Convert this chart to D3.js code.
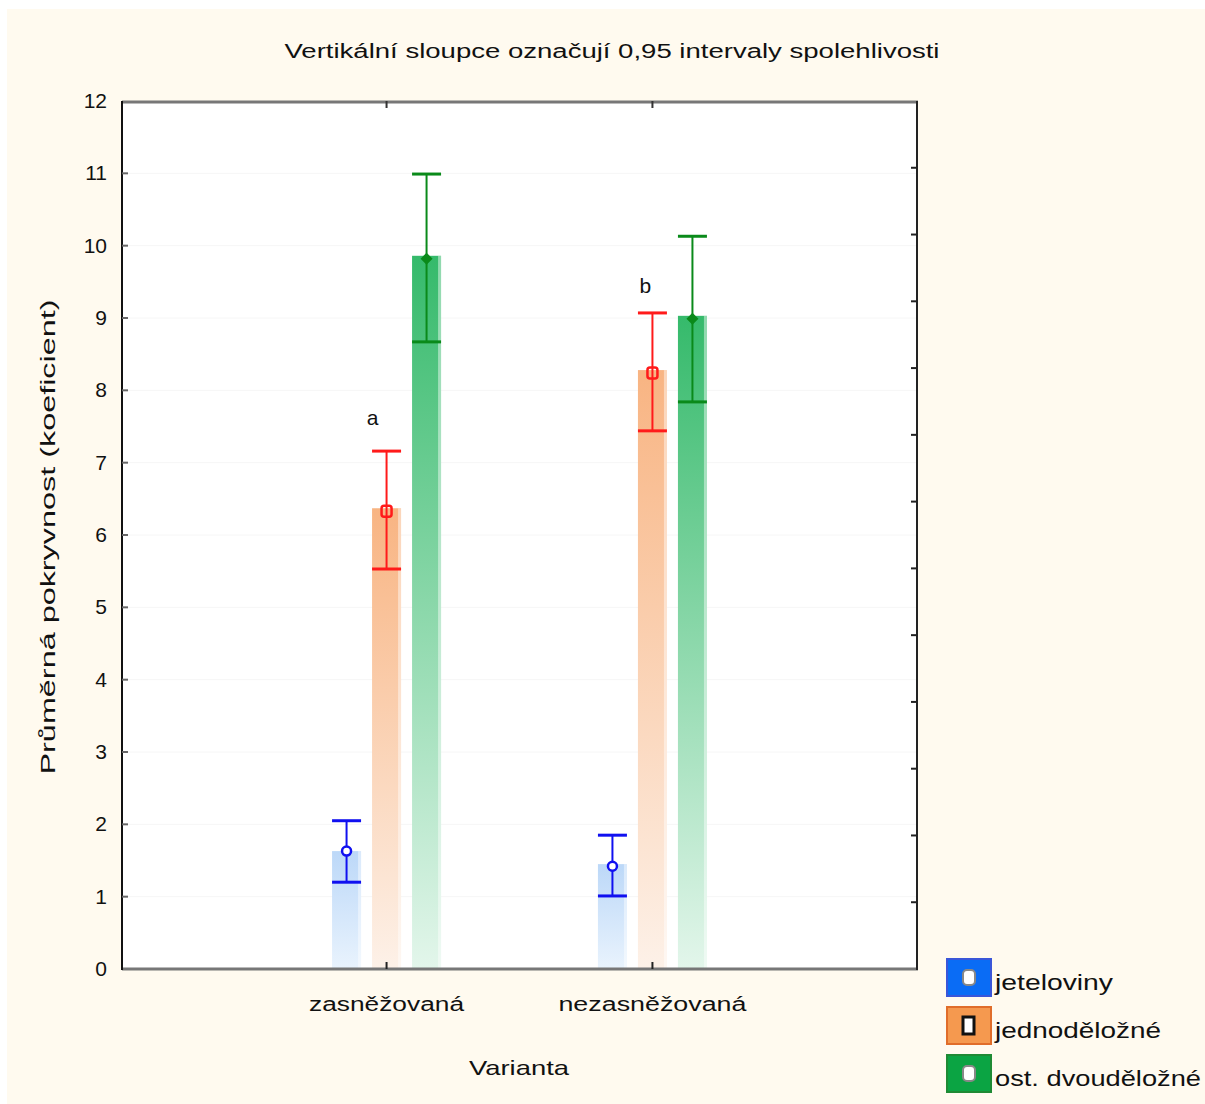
<!DOCTYPE html>
<html>
<head>
<meta charset="utf-8">
<script src="https://cdn.jsdelivr.net/npm/d3@7"></script>
<style>
  html, body { margin: 0; padding: 0; background: #ffffff; }
  svg { display: block; }
  text { font-family: "Liberation Sans", Arial, sans-serif; fill: #111; }
</style>
</head>
<body>
<svg id="chart" width="1205" height="1104"></svg>
<script>
// ---- data ----
const groups = ["zasněžovaná", "nezasněžovaná"];
const series = ["jeteloviny", "jednoděložné", "ost. dvouděložné"];
// bar heights (means) per series, per group
const meanJeteloviny = [1.63, 1.45];
const meanJednodelozne = [6.37, 8.28];
const meanDvoudelozne = [9.86, 9.03];
// mean marker positions
const markJeteloviny = [1.63, 1.42];
const markJednodelozne = [6.33, 8.24];
const markDvoudelozne = [9.82, 8.99];
// 95% CI lower / upper
const lowJeteloviny = [1.20, 1.01];
const highJeteloviny = [2.05, 1.85];
const lowJednodelozne = [5.53, 7.44];
const highJednodelozne = [7.16, 9.07];
const lowDvoudelozne = [8.67, 7.84];
const highDvoudelozne = [10.99, 10.13];
const yTicks = [0,1,2,3,4,5,6,7,8,9,10,11,12];
const rightTicks = [1,2,3,4,5,6,7,8,9,10,11,12];
const letters = ["a", "b"];
const letterLevel = [7.52, 9.35];
const title = "Vertikální sloupce označují 0,95 intervaly spolehlivosti";
const yTitle = "Průměrná pokryvnost (koeficient)";
const xTitle = "Varianta";

// ---- style ----
const lineColor = ["#1010f0", "#ff1a1a", "#0a8a1a"];
const gradTop = ["#bcd8f8", "#f8b482", "#35ba6b"];
const gradBot = ["#e9f3fd", "#fdf1e8", "#e3f6eb"];
const legFill = ["#0a6cf5", "#f5994f", "#0ba443"];
const legStroke = ["#3a56d8", "#e06d2a", "#1f8a34"];
const letterDx = [-14, -7];

const means = [meanJeteloviny, meanJednodelozne, meanDvoudelozne];
const marks = [markJeteloviny, markJednodelozne, markDvoudelozne];
const lows = [lowJeteloviny, lowJednodelozne, lowDvoudelozne];
const highs = [highJeteloviny, highJednodelozne, highDvoudelozne];

const svg = d3.select("#chart");
const L = 122, R = 917, T = 101, B = 969;

// background
svg.append("rect").attr("x", 7).attr("y", 9).attr("width", 1198).attr("height", 1095).attr("fill", "#fffaef");
svg.append("rect").attr("x", L).attr("y", T).attr("width", R - L).attr("height", B - T).attr("fill", "#ffffff");

const y = d3.scaleLinear().domain([0, 12]).range([B, T]);
const yRight = d3.scaleLinear().domain([0, 13]).range([B, T]);
const x = d3.scalePoint().domain(groups).range([L, R]).padding(0.995);
const xs = d3.scalePoint().domain(series).range([-40, 40]);
const barW = 29;

// faint grid
svg.append("g").selectAll("line").data(yTicks.slice(1, -1)).join("line")
  .attr("x1", L).attr("x2", R).attr("y1", d => y(d)).attr("y2", d => y(d))
  .attr("stroke", "#f6f6f6").attr("stroke-width", 1);

// gradients
const defs = svg.append("defs");
series.forEach((s, i) => {
  const g = defs.append("linearGradient").attr("id", "grad" + i)
    .attr("x1", 0).attr("y1", 0).attr("x2", 0).attr("y2", 1);
  g.append("stop").attr("offset", "0%").attr("stop-color", gradTop[i]);
  g.append("stop").attr("offset", "100%").attr("stop-color", gradBot[i]);
});

const flat = [];
series.forEach((s, si) => groups.forEach((g, gi) => {
  flat.push({ s, si, g, gi, mean: means[si][gi], mark: marks[si][gi], lo: lows[si][gi], hi: highs[si][gi] });
}));
const cx = d => x(d.g) + xs(d.s);

// bars
svg.append("g").selectAll("rect").data(flat).join("rect")
  .attr("x", d => cx(d) - barW / 2).attr("width", barW)
  .attr("y", d => y(d.mean)).attr("height", d => y(0) - y(d.mean))
  .attr("fill", d => `url(#grad${d.si})`);
// light right edge on bars
svg.append("g").selectAll("rect").data(flat).join("rect")
  .attr("x", d => cx(d) + barW / 2 - 3).attr("width", 3)
  .attr("y", d => y(d.mean)).attr("height", d => y(0) - y(d.mean))
  .attr("fill", "#ffffff").attr("opacity", 0.45);

// error bars
const eb = svg.append("g").selectAll("g").data(flat).join("g")
  .attr("stroke", d => lineColor[d.si]).attr("stroke-width", 2).attr("fill", "none");
eb.append("line").attr("x1", cx).attr("x2", cx).attr("y1", d => y(d.lo)).attr("y2", d => y(d.hi));
eb.append("line").attr("x1", d => cx(d) - barW / 2).attr("x2", d => cx(d) + barW / 2)
  .attr("y1", d => y(d.hi)).attr("y2", d => y(d.hi)).attr("stroke-width", 3);
eb.append("line").attr("x1", d => cx(d) - barW / 2).attr("x2", d => cx(d) + barW / 2)
  .attr("y1", d => y(d.lo)).attr("y2", d => y(d.lo)).attr("stroke-width", 3);

// mean markers
const mk = svg.append("g").selectAll("g").data(flat).join("g");
mk.filter(d => d.si === 0).append("circle")
  .attr("cx", cx).attr("cy", d => y(d.mark)).attr("r", 4.5)
  .attr("fill", "#ffffff").attr("stroke", lineColor[0]).attr("stroke-width", 2.5);
mk.filter(d => d.si === 1).append("rect")
  .attr("x", d => cx(d) - 5).attr("y", d => y(d.mark) - 5.5).attr("width", 10).attr("height", 11).attr("rx", 2.5)
  .attr("fill", "none").attr("stroke", lineColor[1]).attr("stroke-width", 2.5);
mk.filter(d => d.si === 2).append("path")
  .attr("d", d => { const X = cx(d), Y = y(d.mark); return `M${X-6},${Y} L${X},${Y-6} L${X+6},${Y} L${X},${Y+6} Z`; })
  .attr("fill", lineColor[2]);

// letters above orange bars
svg.append("g").selectAll("text").data(groups).join("text")
  .attr("x", (g, i) => x(g) + xs(series[1]) + letterDx[i]).attr("y", (g, i) => y(letterLevel[i]))
  .attr("font-size", 21).attr("text-anchor", "middle").text((g, i) => letters[i]);

// frame
svg.append("line").attr("x1", L).attr("x2", R + 1).attr("y1", T + 1).attr("y2", T + 1).attr("stroke", "#777").attr("stroke-width", 3);
svg.append("line").attr("x1", L).attr("x2", R + 1).attr("y1", B).attr("y2", B).attr("stroke", "#777").attr("stroke-width", 3);
svg.append("line").attr("x1", R).attr("x2", R).attr("y1", T).attr("y2", B + 1).attr("stroke", "#222").attr("stroke-width", 2);
svg.append("line").attr("x1", L).attr("x2", L).attr("y1", T).attr("y2", B + 1).attr("stroke", "#111").attr("stroke-width", 2);

// left ticks (inward) and labels
const yAxis = svg.append("g");
yAxis.selectAll("line").data(yTicks.slice(1, -1)).join("line")
  .attr("x1", L).attr("x2", L + 6).attr("y1", d => y(d)).attr("y2", d => y(d))
  .attr("stroke", "#666").attr("stroke-width", 2);
yAxis.selectAll("text").data(yTicks).join("text")
  .attr("x", 107).attr("y", d => y(d) + 7).attr("text-anchor", "end")
  .attr("font-size", 21).text(d => d);

// right ticks (inward)
svg.append("g").selectAll("line").data(rightTicks).join("line")
  .attr("x1", R - 6).attr("x2", R).attr("y1", d => yRight(d)).attr("y2", d => yRight(d))
  .attr("stroke", "#222").attr("stroke-width", 2);

// x ticks top and bottom
svg.append("g").selectAll("line").data(groups).join("line")
  .attr("x1", d => x(d)).attr("x2", d => x(d)).attr("y1", B - 7).attr("y2", B)
  .attr("stroke", "#222").attr("stroke-width", 2);
svg.append("g").selectAll("line").data(groups).join("line")
  .attr("x1", d => x(d)).attr("x2", d => x(d)).attr("y1", T).attr("y2", T + 7)
  .attr("stroke", "#333").attr("stroke-width", 2);
const xLabelW = [155, 188];
svg.append("g").selectAll("text").data(groups).join("text")
  .attr("x", d => x(d)).attr("y", 1011).attr("text-anchor", "middle")
  .attr("font-size", 20).attr("textLength", (d, i) => xLabelW[i]).attr("lengthAdjust", "spacingAndGlyphs")
  .text(d => d);

// titles
svg.append("text").attr("x", 612).attr("y", 58).attr("text-anchor", "middle")
  .attr("font-size", 20).attr("textLength", 655).attr("lengthAdjust", "spacingAndGlyphs").text(title);
svg.append("text").attr("x", 519).attr("y", 1075).attr("text-anchor", "middle")
  .attr("font-size", 21).attr("textLength", 100).attr("lengthAdjust", "spacingAndGlyphs").text(xTitle);
svg.append("text").attr("transform", "translate(55,537) rotate(-90)").attr("text-anchor", "middle")
  .attr("font-size", 21).attr("textLength", 475).attr("lengthAdjust", "spacingAndGlyphs").text(yTitle);

// legend
const legY = [958, 1006, 1054];
const legTextW = [118, 166, 206];
const leg = svg.append("g").selectAll("g").data(series).join("g")
  .attr("transform", (d, i) => `translate(946,${legY[i]})`);
leg.append("rect").attr("x", 1).attr("y", 1).attr("width", 44).attr("height", 37)
  .attr("fill", (d, i) => legFill[i]).attr("stroke", (d, i) => legStroke[i]).attr("stroke-width", 2);
leg.filter((d, i) => i !== 1).append("rect").attr("x", 17).attr("y", 12).attr("width", 12).attr("height", 15)
  .attr("fill", "#ffffff").attr("stroke", "#888").attr("stroke-width", 2).attr("rx", 4);
leg.filter((d, i) => i === 1).append("rect").attr("x", 17).attr("y", 11).attr("width", 11).attr("height", 17)
  .attr("fill", "#ffffff").attr("stroke", "#111").attr("stroke-width", 3);
leg.append("text").attr("x", 49).attr("y", 32).attr("font-size", 22)
  .attr("textLength", (d, i) => legTextW[i]).attr("lengthAdjust", "spacingAndGlyphs").text(d => d);
</script>
</body>
</html>
